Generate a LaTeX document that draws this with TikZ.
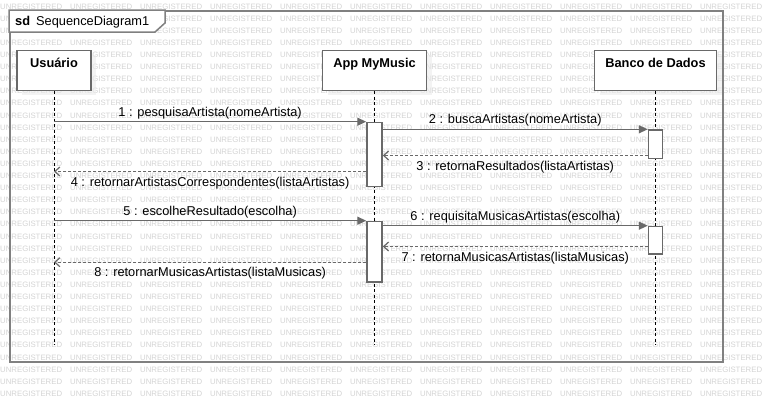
\documentclass[tikz,border=0pt]{standalone}
\usepackage{fontspec}
\setmainfont{Liberation Sans}
\usetikzlibrary{arrows.meta,shadows}
\definecolor{frm}{RGB}{128,128,128}
\definecolor{ln}{RGB}{105,105,105}
\definecolor{wmc}{RGB}{212,212,212}
\begin{document}
\begin{tikzpicture}[x=1pt,y=-1pt,
  wm/.style={font=\fontsize{7.8}{8}\selectfont, text=wmc, inner sep=0, anchor=base west},
  headbox/.style={draw=ln, line width=1.6pt, fill=white, minimum height=40pt, inner sep=0, anchor=north,
    drop shadow={shadow xshift=5pt, shadow yshift=-5pt, fill=black!8, opacity=0.6}},
  headtxt/.style={font=\fontsize{12.8}{15}\selectfont\bfseries, inner sep=0, anchor=base},
  act/.style={draw=ln, line width=1.5pt, fill=white, minimum width=15pt, inner sep=0, anchor=north},
  life/.style={black, line width=0.9pt, dash pattern=on 3pt off 2.5pt},
  msg/.style={ln, line width=1.4pt, -{Triangle[length=9pt,width=8pt]}},
  ret/.style={ln, line width=1.2pt, dash pattern=on 3pt off 2pt, -{Straight Barb[length=5pt,width=9pt]}},
  mlbl/.style={font=\fontsize{12.8}{15}\selectfont, inner sep=0, anchor=base, text=black},
]
\useasboundingbox (0,0) rectangle (762,402);
\clip (0,0) rectangle (762,402);
\fill[white] (0,0) rectangle (762,402);
% watermark
\foreach \r in {0,...,32}{
  \foreach \c in {0,...,10}{
    \node[wm] (wm-\r-\c) at (\c*70, 9.1+12.1*\r) {UNREGISTERED};
  }
}
% frame
\node[draw=frm, line width=2pt, minimum width=713pt, minimum height=351pt, anchor=north west, inner sep=0] (frame) at (9,10) {};
\draw[frm, line width=1.5pt, fill=white] (frame.north west) -- ++(156,0) -- ++(0,13) -- ++(-10,9) -- ++(-146,0) -- cycle;
\node[anchor=base west, inner sep=0, font=\fontsize{12.8}{15}\selectfont] (title) at (15,25) {\textbf{sd}\hspace{6pt}SequenceDiagram1};
% lifeline heads
\node[headbox, minimum width=74pt] (usr) at (54,49.5) {};
\node[headbox, minimum width=104pt] (app) at (374.5,49.5) {};
\node[headbox, minimum width=122pt] (db) at (655.5,49.5) {};
\node[headtxt] (usrt) at (54,67.6) {Usuário};
\node[headtxt] (appt) at (374.5,67.6) {App MyMusic};
\node[headtxt] (dbt) at (655.5,67.6) {Banco de Dados};
% lifelines
\coordinate (usrend) at (54,345);
\coordinate (append) at (374.5,345);
\coordinate (dbend) at (655.5,345);
\draw[life] (usr.south) -- (usrend);
\draw[life] (app.south) -- (append);
\draw[life] (db.south) -- (dbend);
% activations
\node[act, minimum height=64pt] (a1) at (374.5,121.7) {};
\node[act, minimum height=28.4pt, minimum width=14pt] (b1) at (655.5,129.3) {};
\node[act, minimum height=60.3pt] (a2) at (374.5,220.7) {};
\node[act, minimum height=27.6pt, minimum width=14pt] (b2) at (655.5,225.7) {};
% messages
\draw[msg] (usr.south |- a1.north) -- node[mlbl, midway, yshift=5.5pt] (l1) {1 : pesquisaArtista(nomeArtista)} (a1.north west);
\draw[msg] (a1.east |- b1.north) -- node[mlbl, midway, yshift=5.5pt] (l2) {2 : buscaArtistas(nomeArtista)} (b1.north west);
\coordinate (m3s) at ([yshift=3.7pt]b1.south west);
\draw[ret] (m3s) -- node[mlbl, midway, yshift=-14.5pt] (l3) {3 : retornaResultados(listaArtistas)} (a1.east |- m3s);
\coordinate (m4s) at ([yshift=15.7pt]a1.south west);
\draw[ret] (m4s) -- node[mlbl, midway, yshift=-14.5pt] (l4) {4 : retornarArtistasCorrespondentes(listaArtistas)} (usr.south |- m4s);
\draw[msg] (usr.south |- a2.north) -- node[mlbl, midway, yshift=5.5pt] (l5) {5 : escolheResultado(escolha)} (a2.north west);
\draw[msg] (a2.east |- b2.north) -- node[mlbl, midway, yshift=5.5pt] (l6) {6 : requisitaMusicasArtistas(escolha)} (b2.north west);
\coordinate (m7s) at ([yshift=8.3pt]b2.south west);
\draw[ret] (m7s) -- node[mlbl, midway, yshift=-14.5pt] (l7) {7 : retornaMusicasArtistas(listaMusicas)} (a2.east |- m7s);
\coordinate (m8s) at ([yshift=20.3pt]a2.south west);
\draw[ret] (m8s) -- node[mlbl, midway, yshift=-14.5pt] (l8) {8 : retornarMusicasArtistas(listaMusicas)} (usr.south |- m8s);
\end{tikzpicture}
\end{document}
